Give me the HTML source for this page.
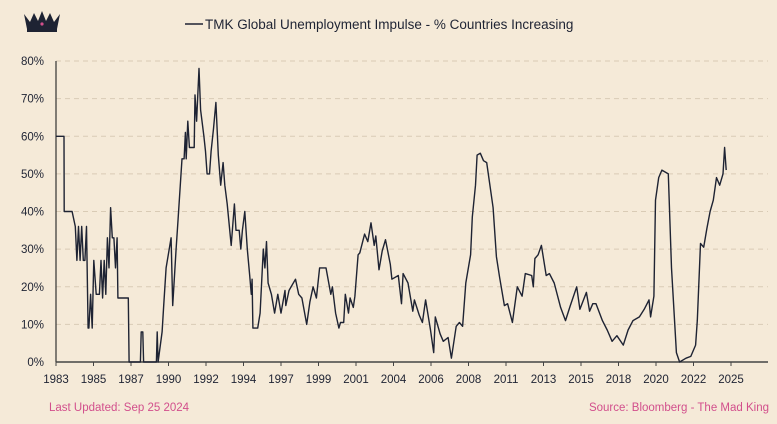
<!DOCTYPE html>
<html><head><meta charset="utf-8"><style>
body{margin:0;background:#f5ead8;}
#c{position:relative;width:777px;height:424px;background:#f5ead8;overflow:hidden;font-family:"Liberation Sans",sans-serif;}
.foot{position:absolute;top:402px;font-size:11.5px;color:#d24f8c;}
</style></head><body>
<div id="c">
<svg id="s" width="777" height="424">
 <g fill="#1e2333">
  <path d="M24 14 L30 22 L34 13 L38 21 L42 11 L46 21 L50 13 L54 22 L60 14 L57 29 L27 29 Z"/>
  <rect x="27" y="29" width="30" height="3"/>
  <circle cx="42" cy="24" r="1.6" fill="#d24f8c"/>
 </g>
 <line x1="185" y1="24" x2="203" y2="24" stroke="#1e2333" stroke-width="1.5"/>
 <text x="205" y="29" font-size="13.5" fill="#1e2333">TMK Global Unemployment Impulse - % Countries Increasing</text>
 <g id="grid"></g><g id="axes"></g><g id="series"></g>
</svg>
<div class="foot" style="left:49px">Last Updated: Sep 25 2024</div>
<div class="foot" style="right:8px">Source: Bloomberg - The Mad King</div>
</div>
<script>
const yTicks=[0,10,20,30,40,50,60,70,80];
const xTickYears=[1983,1985,1987,1990,1992,1994,1997,1999,2001,2004,2006,2008,2011,2013,2015,2018,2020,2022,2025];
const dates=[1983.0,1983.5,1983.51,1984.0,1984.2,1984.3,1984.4,1984.5,1984.6,1984.7,1984.8,1984.9,1985.0,
1985.05,1985.15,1985.25,1985.35,1985.5,1985.7,1985.8,1985.9,1986.0,1986.1,1986.2,1986.3,1986.4,1986.5,1986.6,1986.7,1986.8,
1986.85,1987.5,1987.55,1988.25,1988.3,1988.4,1988.45,1989.25,1989.3,1989.35,1989.6,1989.7,1989.85,
1990.16,1990.26,1990.47,1990.6,1990.84,1990.97,1991.05,1991.1,1991.2,1991.3,
1991.6,1991.65,1991.75,1991.9,1992.0,1992.2,1992.3,1992.4,1992.55,1992.65,
1992.8,1992.95,1993.1,1993.25,1993.4,1993.5,1993.65,1993.9,1994.1,1994.2,
1994.4,1994.5,1994.6,1994.75,1994.9,1995.05,1995.15,1995.2,1995.25,1995.55,
1995.7,1995.9,1996.0,1996.1,1996.2,1996.4,1996.6,1996.8,1997.0,1997.25,
1997.3,1997.5,1997.9,1998.1,1998.3,1998.6,1998.8,1999.0,1999.2,1999.4,
1999.8,2000.1,2000.2,2000.4,2000.6,2000.7,2000.9,2001.0,2001.2,2001.3,
2001.5,2001.6,2001.8,2001.9,2002.2,2002.4,2002.6,2002.8,2002.9,2003.1,
2003.3,2003.5,2003.8,2003.9,2004.3,2004.5,2004.6,2004.9,2005.2,2005.3,
2005.6,2005.8,2006.0,2006.3,2006.5,2006.6,2006.9,2007.1,2007.4,2007.6,
2007.9,2008.1,2008.3,2008.5,2008.8,2008.9,2009.1,2009.2,2009.4,2009.6,
2009.8,2010.2,2010.4,2010.6,2010.9,2011.1,2011.4,2011.7,2012.0,2012.2,
2012.6,2012.7,2012.8,2013.0,2013.2,2013.5,2013.7,2014.0,2014.4,2014.7,
2015.0,2015.4,2015.6,2016.0,2016.2,2016.4,2016.6,2017.0,2017.3,2017.6,
2017.9,2018.3,2018.6,2018.9,2019.3,2019.6,2019.9,2020.0,2020.2,2020.3,
2020.5,2020.7,2021.1,2021.3,2021.6,2021.8,2022.2,2022.5,2022.8,2022.9,
2023.1,2023.3,2023.5,2023.7,2023.9,2024.1,2024.3,2024.5,2024.6,2024.7];
const values=[60,60,40,40,36,27,36,27,36,27,27,36,9,
9,18,9,27,18,18,27,17,27,18,33,25,41,33,33,25,33,
17,17,0,0,8,8,0,0,8,0,8,15,25,
33,15,30,38,54,54,61,54,64,57,
57,71,64,78,67,60,56,50,50,56,
62,69,55,47,53,47,42,31,42,35,
35,30,35,40,30,23,18,22,9,9,
13,30,25,32,21,18,13,18,13,19,
15,19,22,18,17,10,16,20,17,25,
25,18,20,13,9,10.5,10.5,18,13,17,
14.5,17.5,28.5,29,34,32,37,31,33.5,24.5,
29.5,32.5,26,22,23,15.5,23.5,21,13.5,16.5,
12.5,10.5,16.5,8.5,2.5,12,7.5,5.5,6.5,1,
9.5,10.5,9.5,21,28.5,38.5,47,55,55.5,53.5,
53,41,28,22.5,15,15.5,10.5,20,17.5,23.5,
23,20,27.5,28.5,31,23,23.5,21,14.5,11,
15,20,14,18.5,13.5,15.5,15.5,11,8.5,5.5,
7,4.5,8.5,11,12,14,16.5,12,17.5,43,
49,51,50,25,2.5,0,1,1.5,4.5,11,
31.5,30.5,35.5,40,43,49,47,50,57,51];
const X0=56,X1=731,Y0=362,Y80=61;
function xs(yr){return X0+(yr-1983)*(X1-X0)/42;}
function ys(v){return Y0-(v/80)*(Y0-Y80);}
const NS='http://www.w3.org/2000/svg';
function mk(t,a,p){const e=document.createElementNS(NS,t);for(const k in a)e.setAttribute(k,a[k]);p.appendChild(e);return e;}
const grid=document.getElementById('grid'),axes=document.getElementById('axes'),ser=document.getElementById('series');
yTicks.forEach(v=>{
 if(v>0){const g=mk('line',{x1:X0,x2:768,y1:ys(v),y2:ys(v),stroke:'#d9cbb5','stroke-dasharray':'5,4','stroke-width':1},grid);
 
 }
 const t=mk('text',{x:44,y:ys(v)+4,'text-anchor':'end','font-size':11.5,fill:'#1e2333'},axes);
 t.textContent=v+'%';
 
 
});
const ya=mk('line',{x1:X0,x2:X0,y1:Y80,y2:Y0,stroke:'#333','stroke-width':1.2},axes);


const xa=mk('line',{x1:X0,x2:768,y1:Y0,y2:Y0,stroke:'#444','stroke-width':1.4},axes);


xTickYears.forEach((yr,i)=>{
 const pos=1983+i*42/18;
 const tk=mk('line',{x1:xs(pos),x2:xs(pos),y1:Y0,y2:Y0+4,stroke:'#444'},axes);
 
 
 const t=mk('text',{x:xs(pos),y:383,'text-anchor':'middle','font-size':11.5,fill:'#1e2333'},axes);
 t.textContent=yr;
 
 
});
const n=Math.min(dates.length,values.length);
const pts=dates.slice(0,n).map((d,i)=>xs(d).toFixed(1)+','+ys(values[i]).toFixed(1)).join(' ');
const pl=mk('polyline',{points:pts,fill:'none',stroke:'#1e2333','stroke-width':1.4,'stroke-linejoin':'round'},ser);


</script>
</body></html>
